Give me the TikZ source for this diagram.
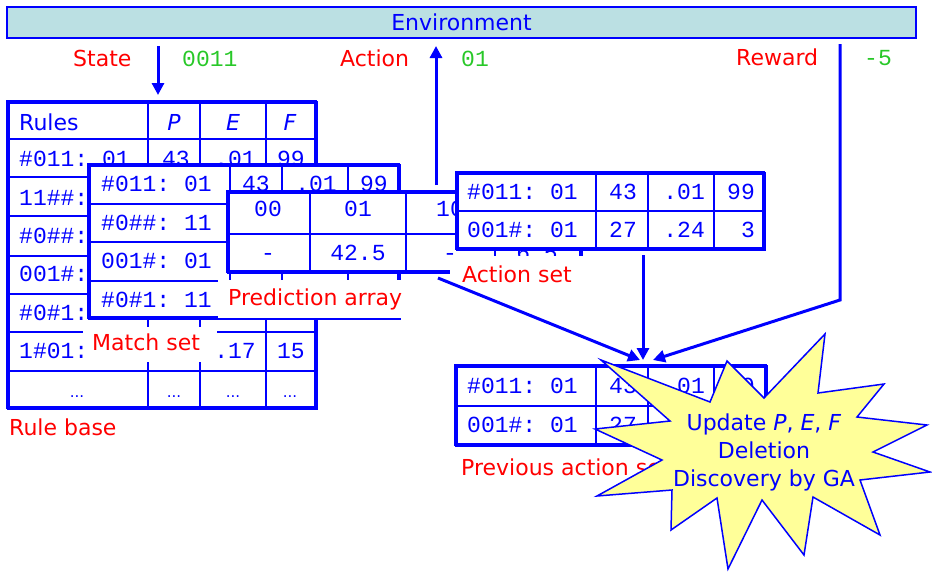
\documentclass[tikz,border=0pt]{standalone}
\usepackage{fontspec}
\setmainfont{DejaVu Sans}
\setmonofont{Liberation Mono}
\usetikzlibrary{arrows.meta}

\definecolor{lcsblue}{RGB}{0,0,255}
\definecolor{lcsred}{RGB}{255,0,0}
\definecolor{lcsgreen}{RGB}{40,200,40}
\definecolor{envfill}{RGB}{187,224,227}
\definecolor{burst}{RGB}{255,255,153}

\tikzset{
  sans/.style={font=\fontsize{22}{26}\selectfont, inner sep=0pt},
  lbl/.style={sans, text=lcsred, anchor=base west},
  val/.style={font=\ttfamily\fontsize{23}{26}\selectfont, inner sep=0pt, text=lcsgreen, anchor=base west},
  cell/.style={font=\ttfamily\fontsize{23}{26}\selectfont, inner sep=0pt, text=lcsblue},
  cellL/.style={cell, anchor=base west},
  cellR/.style={cell, anchor=base east},
  cellC/.style={cell, anchor=base},
  head/.style={sans, text=lcsblue, anchor=base},
  tabframe/.style={draw=lcsblue, line width=3pt, fill=white, inner sep=0pt, anchor=north west},
  grid/.style={draw=lcsblue, line width=1.8pt},
  cover/.style={fill=white, inner sep=0pt, anchor=north west},
  flow/.style={draw=lcsblue, line width=3pt, -{Triangle[length=12pt,width=12pt]}},
  burstbox/.style={fill=burst, draw=lcsblue, line width=1.5pt, line join=miter},
  bursttext/.style={sans, text=lcsblue, anchor=base},
}

\begin{document}
\begin{tikzpicture}[x=1pt,y=-1pt]
\useasboundingbox (0,0) rectangle (932,571);

% Environment bar
\node[draw=lcsblue, fill=envfill, line width=2.5pt, minimum width=909pt, minimum height=31pt,
      inner sep=0pt, sans, text=lcsblue] (env) at (461.5,22.5) {Environment};

% Signals exchanged with the environment
\node[lbl] (stateLbl) at (73,66) {State};
\node[val] (stateVal) at (182,66) {0011};
\node[lbl] (actLbl) at (340,66) {Action};
\node[val] (actVal) at (461,66) {01};
\node[lbl] (rewLbl) at (736,65) {Reward};
\node[val] (rewVal) at (864,65) {-5};

% ---------------- Rule base ----------------
\node[tabframe, minimum width=308pt, minimum height=306pt] (rulebase) at (7,101) {};
\foreach \y in {139,177,216,256,294,332,371} \draw[grid] (7,\y) -- (315,\y);
\foreach \x in {148,200,266} \draw[grid] (\x,101) -- (\x,407);
\draw[draw=lcsblue, line width=3pt] (7,101) rectangle (315,407);
\node[sans, text=lcsblue, anchor=base west] (rbHead) at (19,130) {Rules};
\node[head] (rbP) at (174,130) {\itshape P};
\node[head] (rbE) at (233,130) {\itshape E};
\node[head] (rbF) at (290,130) {\itshape F};
\node[cellL] (rb1) at (19,166) {\#011: 01};
\node[cellR] at (190,166) {43};
\node[cellR] at (256,166) {.01};
\node[cellR] at (305,166) {99};
\node[cellL] (rb2) at (19,205) {11\#\#:};
\node[cellL] (rb3) at (19,243) {\#0\#\#:};
\node[cellL] (rb4) at (19,281) {001\#:};
\node[cellL] (rb5) at (19,320) {\#0\#1:};
\node[cellL] (rb6) at (19,358) {1\#01:};
\node[cellR] at (256,358) {.17};
\node[cellR] at (305,358) {15};
\foreach \x in {77,174,233,290}
  \node[sans, font=\fontsize{15}{18}\selectfont, text=lcsblue, anchor=base] at (\x,397) {...};
\node[lbl] (rbLbl) at (9,435) {Rule base};

% ---------------- Match set ----------------
\node[tabframe, minimum width=310pt, minimum height=153pt] (matchset) at (88,164) {};
\foreach \y in {204,242,281} \draw[grid] (88,\y) -- (398,\y);
\foreach \x in {230,282,348} \draw[grid] (\x,164) -- (\x,317);
\draw[draw=lcsblue, line width=3pt] (88,164) rectangle (398,317);
\node[cellL] (ms1) at (101,191) {\#011: 01};
\node[cellR] at (270,191) {43};
\node[cellR] at (337,191) {.01};
\node[cellR] at (388,191) {99};
\node[cellL] (ms2) at (101,230) {\#0\#\#: 11};
\node[cellL] (ms3) at (101,268) {001\#: 01};
\node[cellL] (ms4) at (101,307) {\#0\#1: 11};
\node[cover, minimum width=134pt, minimum height=35pt] (msCover) at (83,327) {};
\node[lbl] (msLbl) at (92,350) {Match set};

% ---------------- Prediction array ----------------
\node[tabframe, minimum width=353pt, minimum height=80pt] (predarray) at (227,191) {};
\draw[grid] (227,234) -- (580,234);
\foreach \x in {310,406,495} \draw[grid] (\x,191) -- (\x,271);
\draw[draw=lcsblue, line width=3pt] (227,191) rectangle (580,271);
\node[cellC] at (268,216) {00};
\node[cellC] at (358,216) {01};
\node[cellC] at (450,216) {10};
\node[cellC] at (268,260) {-};
\node[cellC] at (358,260) {42.5};
\node[cellC] at (450,260) {-};
\node[cellC] at (537,260) {6.5};
\node[cover, minimum width=194pt, minimum height=38pt] (paCover) at (218,280) {};
\node[lbl] (paLbl) at (228,305) {Prediction array};

% ---------------- Action set ----------------
\node[tabframe, minimum width=307pt, minimum height=76pt] (actionset) at (456,172) {};
\draw[grid] (456,211) -- (763,211);
\foreach \x in {596,648,714} \draw[grid] (\x,172) -- (\x,248);
\draw[draw=lcsblue, line width=3pt] (456,172) rectangle (763,248);
\node[cellL] (as1) at (467,199) {\#011: 01};
\node[cellR] at (637,199) {43};
\node[cellR] at (705,199) {.01};
\node[cellR] at (755,199) {99};
\node[cellL] (as2) at (467,237) {001\#: 01};
\node[cellR] at (637,237) {27};
\node[cellR] at (705,237) {.24};
\node[cellR] at (755,237) {3};
\node[cover, minimum width=135pt, minimum height=36pt] (asCover) at (450,256) {};
\node[lbl] (asLbl) at (462,282) {Action set};

% ---------------- Previous action set ----------------
\node[tabframe, minimum width=310pt, minimum height=79pt] (prevset) at (455,365) {};
\draw[grid] (455,406) -- (765,406);
\foreach \x in {596,648,714} \draw[grid] (\x,365) -- (\x,444);
\draw[draw=lcsblue, line width=3pt] (455,365) rectangle (765,444);
\node[cellL] (ps1) at (467,393) {\#011: 01};
\node[cellR] at (637,393) {43};
\node[cellR] at (705,393) {.01};
\node[cellR] at (755,393) {99};
\node[cellL] (ps2) at (467,432) {001\#: 01};
\node[cellR] at (637,432) {27};
\node[lbl] (psLbl) at (461,475) {Previous action set};

% ---------------- Connectors ----------------
\coordinate (stateFrom) at (158,46);
\coordinate (stateTo) at (158,95);
\coordinate (actFrom) at (436,185);
\coordinate (actTo) at (436,46);
\coordinate (rewFrom) at (840,44);
\coordinate (rewBend) at (840,300);
\coordinate (rewTo) at (653,360);
\coordinate (asFrom) at (643,255);
\coordinate (asTo) at (643,360);
\coordinate (paFrom) at (438,278);
\coordinate (paTo) at (640,360);

\draw[flow] (stateFrom) -- (stateTo);
\draw[flow] (actFrom) -- (actTo);
\draw[flow] (rewFrom) -- (rewBend) -- (rewTo);
\draw[flow] (asFrom) -- (asTo);
\draw[flow] (paFrom) -- (paTo);

% ---------------- Update burst ----------------
\draw[burstbox] (601,360) -- (710,402) -- (727,361) -- (764,398) -- (825,334)
  -- (818,393) -- (884,384) -- (857,417) -- (927,425) -- (873,452) -- (930,472)
  -- (860,480) -- (880,535) -- (813,497) -- (804,555) -- (762,500) -- (728,569)
  -- (717,498) -- (671,530) -- (672,490) -- (597,496) -- (662,460) -- (595,429)
  -- (670,421) -- cycle;
\node[bursttext] (upd) at (764,430) {Update \textit{P}, \textit{E}, \textit{F}};
\node[bursttext] (del) at (764,458) {Deletion};
\node[bursttext] (ga) at (764,486) {Discovery by GA};

\end{tikzpicture}
\end{document}
